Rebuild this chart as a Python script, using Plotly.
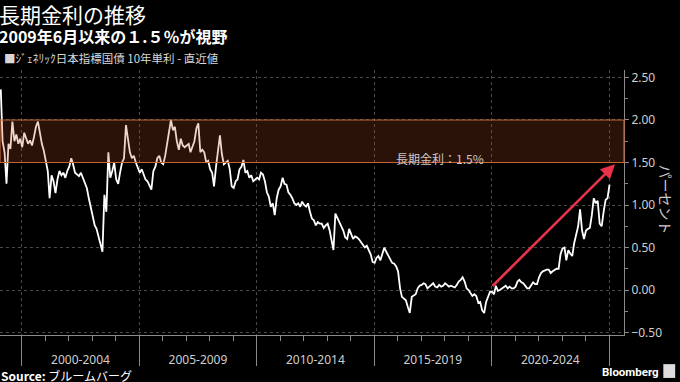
import pandas as pd
import plotly.graph_objects as go

# ---- data: generic JGB 10y yield (monthly reading of the chart, %) ----
start_month = "1999-02-01"
v1999 = [2.36, 1.75, 1.62, 1.25, 1.72, 1.66, 1.98, 1.75, 1.83, 1.72, 1.78]
v2000 = [1.68, 1.85, 1.78, 1.72, 1.76, 1.70, 1.80, 1.92, 1.98, 1.85, 1.72, 1.64]
v2001 = [1.50, 1.40, 1.08, 1.35, 1.28, 1.14, 1.30, 1.40, 1.35, 1.38, 1.32, 1.40]
v2002 = [1.45, 1.55, 1.48, 1.38, 1.36, 1.34, 1.38, 1.32, 1.28, 1.20, 1.08, 0.98]
v2003 = [0.85, 0.76, 0.72, 0.62, 0.55, 0.45, 1.12, 0.92, 1.62, 1.32, 1.40, 1.50]
v2004 = [1.30, 1.25, 1.38, 1.50, 1.55, 1.94, 1.78, 1.62, 1.55, 1.58, 1.50, 1.45]
v2005 = [1.38, 1.42, 1.35, 1.30, 1.28, 1.22, 1.18, 1.40, 1.45, 1.55, 1.58, 1.50]
v2006 = [1.48, 1.58, 1.72, 1.90, 2.00, 1.88, 1.92, 1.75, 1.65, 1.78, 1.70, 1.68]
v2007 = [1.70, 1.72, 1.62, 1.68, 1.75, 1.90, 1.96, 1.62, 1.65, 1.62, 1.50, 1.52]
v2008 = [1.42, 1.38, 1.22, 1.45, 1.65, 1.82, 1.60, 1.48, 1.50, 1.52, 1.42, 1.22]
v2009 = [1.20, 1.28, 1.30, 1.42, 1.45, 1.53, 1.38, 1.40, 1.32, 1.35, 1.28, 1.30]
v2010 = [1.32, 1.30, 1.38, 1.36, 1.28, 1.15, 1.10, 0.98, 1.02, 0.88, 1.08, 1.18]
v2011 = [1.22, 1.32, 1.25, 1.24, 1.15, 1.12, 1.08, 1.02, 1.00, 1.02, 0.98, 1.04]
v2012 = [1.00, 0.98, 1.02, 0.92, 0.84, 0.82, 0.76, 0.80, 0.78, 0.78, 0.73, 0.76]
v2013 = [0.78, 0.70, 0.58, 0.47, 0.90, 0.85, 0.80, 0.74, 0.70, 0.62, 0.60, 0.72]
v2014 = [0.65, 0.60, 0.63, 0.62, 0.60, 0.57, 0.53, 0.50, 0.52, 0.46, 0.42, 0.33]
v2015 = [0.32, 0.38, 0.40, 0.35, 0.42, 0.50, 0.45, 0.40, 0.36, 0.32, 0.31, 0.28]
v2016 = [0.22, 0.02, -0.08, -0.10, -0.12, -0.20, -0.27, -0.08, -0.06, -0.05, 0.02, 0.05]
v2017 = [0.06, 0.08, 0.07, 0.02, 0.04, 0.06, 0.08, 0.04, 0.03, 0.06, 0.04, 0.05]
v2018 = [0.08, 0.06, 0.04, 0.05, 0.04, 0.03, 0.06, 0.10, 0.12, 0.15, 0.10, 0.02]
v2019 = [0.00, -0.03, -0.07, -0.05, -0.07, -0.15, -0.14, -0.24, -0.27, -0.14, -0.08, -0.02]
v2020 = [-0.02, -0.05, 0.05, -0.01, 0.00, 0.02, 0.03, 0.05, 0.02, 0.04, 0.02, 0.02]
v2021 = [0.04, 0.10, 0.12, 0.09, 0.08, 0.05, 0.02, 0.02, 0.06, 0.09, 0.07, 0.07]
v2022 = [0.15, 0.20, 0.22, 0.23, 0.24, 0.24, 0.20, 0.22, 0.24, 0.25, 0.25, 0.42]
v2023 = [0.49, 0.50, 0.35, 0.47, 0.43, 0.40, 0.55, 0.64, 0.75, 0.95, 0.70, 0.60]
v2024 = [0.70, 0.72, 0.73, 0.88, 1.08, 1.02, 1.05, 0.78, 0.75, 0.92, 1.06, 1.08]
v2025 = [1.24]

period_starts = ["2000-01-01", "2005-01-01", "2010-01-01", "2015-01-01", "2020-01-01", "2025-01-01"]
period_labels = ["2000-2004", "2005-2009", "2010-2014", "2015-2019", "2020-2024"]
band_low, band_high = 1.5, 2.0
band_label = "長期金利：1.5%"
arrow_from = ("2019-12-24", 0.03)
arrow_to = ("2025-04-05", 1.48)
x_range = ["1999-01-28", "2025-08-22"]

values = (v1999 + v2000 + v2001 + v2002 + v2003 + v2004 + v2005 + v2006 + v2007
          + v2008 + v2009 + v2010 + v2011 + v2012 + v2013 + v2014 + v2015 + v2016
          + v2017 + v2018 + v2019 + v2020 + v2021 + v2022 + v2023 + v2024 + v2025)
dates = pd.date_range(start_month, periods=len(values), freq="MS") + pd.Timedelta(days=8)

bounds = pd.to_datetime(period_starts)
label_pos = [bounds[i] + (bounds[i + 1] - bounds[i]) / 2 for i in range(len(period_labels))]

GRID = "#4a4a4a"
AXIS = "#8a8a8a"
TXT = "#cfcfcf"
FONT = "Noto Sans, Noto Sans CJK JP, sans-serif"

fig = go.Figure()
fig.add_trace(go.Scatter(x=dates, y=values, mode="lines",
                         line=dict(color="white", width=1.8), hoverinfo="skip"))

fig.add_shape(type="rect", xref="paper", x0=0, x1=1, yref="y", y0=band_low, y1=band_high,
              fillcolor="rgba(183,78,35,0.23)", line=dict(color="rgb(196,100,55)", width=1.2),
              layer="above")

fig.add_annotation(x="2017-10-20", y=band_low, xref="x", yref="y", text=band_label,
                   showarrow=False, yanchor="bottom", yshift=-6,
                   font=dict(family="Noto Sans CJK JP", size=12, color="#c8c8c8"))

fig.add_annotation(x=arrow_to[0], y=arrow_to[1], ax=arrow_from[0], ay=arrow_from[1],
                   xref="x", yref="y", axref="x", ayref="y", text="",
                   showarrow=True, arrowhead=2, arrowsize=1.1, arrowwidth=2.6,
                   arrowcolor="#e8334a", standoff=0, startstandoff=0)

fig.update_layout(
    width=680, height=382,
    paper_bgcolor="black", plot_bgcolor="black",
    margin=dict(l=0, r=56, t=70, b=47),
    showlegend=False,
    font=dict(family=FONT, color=TXT, size=12),
    xaxis=dict(
        type="date", range=x_range,
        tick0="2000-01-01", dtick="M60", showticklabels=False,
        ticks="outside", ticklen=30, tickcolor=AXIS, tickwidth=1,
        showgrid=True, gridcolor=GRID, griddash="dot", gridwidth=1,
        showline=True, linecolor=AXIS, linewidth=1,
        minor=dict(dtick="M12", tick0="2000-01-01", ticks="outside", ticklen=5,
                   tickcolor=AXIS, showgrid=False),
        zeroline=False, fixedrange=True,
    ),
    xaxis2=dict(
        type="date", range=x_range, overlaying="x", side="bottom", anchor="y",
        tickmode="array", tickvals=label_pos, ticktext=period_labels,
        ticks="", ticklabelstandoff=16, showgrid=False, showline=False, zeroline=False,
        tickfont=dict(family=FONT, size=12, color=TXT), fixedrange=True,
    ),
    yaxis=dict(
        side="right", range=[-0.529, 2.588], dtick=0.5, tick0=0, tickformat=".2f",
        ticks="outside", ticklen=4, tickcolor=AXIS,
        tickfont=dict(family=FONT, size=12, color=TXT),
        showgrid=True, gridcolor=GRID, griddash="dot", gridwidth=1,
        showline=True, linecolor=AXIS, linewidth=1,
        minor=dict(dtick=0.25, ticks="outside", ticklen=3, tickcolor=AXIS, showgrid=False),
        zeroline=False, fixedrange=True,
    ),
)
# invisible trace to activate the label axis
fig.add_trace(go.Scatter(x=[label_pos[0]], y=[None], xaxis="x2", mode="lines",
                         hoverinfo="skip", showlegend=False))

# titles and notes
fig.add_annotation(xref="paper", yref="paper", x=-0.004, y=1.0, yshift=56,
                   xanchor="left", yanchor="middle", showarrow=False, borderpad=0,
                   text="長期金利の推移",
                   font=dict(family="Noto Sans CJK JP", size=21, color="white"))
fig.add_annotation(xref="paper", yref="paper", x=-0.004, y=1.0, yshift=34,
                   xanchor="left", yanchor="middle", showarrow=False, borderpad=0,
                   text="<b>2009年6月以来の１.５％が視野</b>",
                   font=dict(family="Noto Sans CJK JP", size=16, color="white"))
fig.add_annotation(xref="paper", yref="paper", x=0.004, y=1.0, yshift=12,
                   xanchor="left", yanchor="middle", showarrow=False,
                   text="■ｼﾞｪﾈﾘｯｸ日本指標国債 10年単利 - 直近値",
                   font=dict(family="Noto Sans CJK JP", size=11.5, color="#d8d8d8"))
fig.add_annotation(xref="paper", yref="paper", x=1.068, y=0.51,
                   xanchor="center", yanchor="middle", showarrow=False, textangle=90,
                   borderpad=0, text="パーセント",
                   font=dict(family="Noto Sans CJK JP", size=14, color="#c8c8c8"))
fig.add_annotation(xref="paper", yref="paper", x=0.0, y=0.0, yshift=-40,
                   xanchor="left", yanchor="middle", showarrow=False, borderpad=0,
                   text="<b>Source:</b> ブルームバーグ",
                   font=dict(family="Noto Sans CJK JP", size=12, color="white"))
fig.add_annotation(xref="paper", yref="paper", x=1.059, y=0.0, yshift=-37,
                   xanchor="right", yanchor="middle", showarrow=False,
                   text="<b>Bloomberg</b>",
                   font=dict(family="Roboto, Noto Sans", size=11.5, color="white"))
fig.add_shape(type="rect", xref="paper", yref="paper", x0=1.063, x1=1.082,
              y0=-0.162, y1=-0.11, fillcolor="#dddddd", line=dict(width=0), layer="above")

fig.write_html("out.html", config={"displayModeBar": False},
               post_script="document.body.style.margin='0';")
